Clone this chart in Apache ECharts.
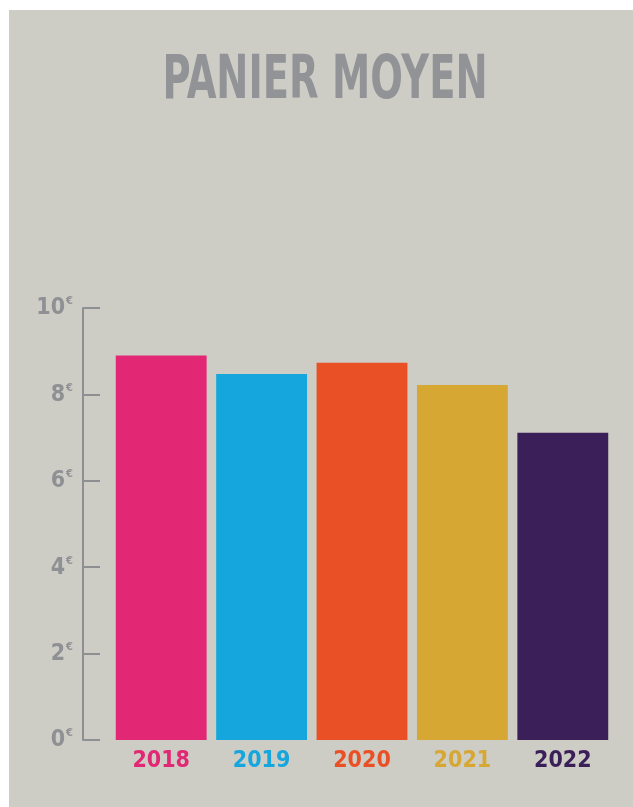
<!DOCTYPE html>
<html>
<head>
<meta charset="utf-8">
<script src="https://cdn.jsdelivr.net/npm/echarts@6/dist/echarts.min.js"></script>
<style>
html,body{margin:0;padding:0;background:#ffffff;}
#chart{width:633px;height:807px;}
</style>
</head>
<body>
<div id="chart"></div>
<script>
var titleText = 'PANIER MOYEN';
var years = ['2018', '2019', '2020', '2021', '2022'];
var values = [8.9, 8.47, 8.73, 8.22, 7.11];
var barColors = ['#e22874', '#15a6de', '#ea5026', '#d7a733', '#3a1f59'];
var yTicks = [0, 2, 4, 6, 8, 10];

var FONT = '"DejaVu Sans Condensed", "Liberation Sans Narrow", sans-serif';
var chart = echarts.init(document.getElementById('chart'), null, {renderer: 'canvas'});

var option = {
  backgroundColor: '#ffffff',
  animation: false,
  graphic: [{
    type: 'rect', z: -10, silent: true,
    shape: {x: 9, y: 10, width: 624, height: 797},
    style: {fill: '#cdcdc5'}
  }, {
    type: 'text', x: 325, y: 52, scaleX: 0.7, silent: true,
    style: {
      text: titleText, fill: '#929397',
      font: 'bold 61px ' + FONT,
      textAlign: 'center', textVerticalAlign: 'top'
    }
  }],
  grid: {left: 111, right: 20, top: 308, bottom: 67, containLabel: false},
  xAxis: {
    type: 'category',
    data: years,
    axisLine: {show: false},
    axisTick: {show: false},
    axisLabel: {
      interval: 0,
      margin: 10,
      fontFamily: FONT, fontWeight: 'bold', fontSize: 23,
      formatter: function (v, i) { return '{c' + i + '|' + v + '}'; },
      rich: (function () {
        var r = {};
        barColors.forEach(function (c, i) {
          r['c' + i] = {color: c, fontFamily: FONT, fontWeight: 'bold', fontSize: 23};
        });
        return r;
      })()
    }
  },
  yAxis: {
    type: 'value',
    min: yTicks[0], max: yTicks[yTicks.length - 1], interval: 2,
    offset: 28,
    axisLine: {show: true, lineStyle: {color: '#8e8f93', width: 2}},
    axisTick: {show: true, inside: true, length: 17, lineStyle: {color: '#8e8f93', width: 2}},
    splitLine: {show: false},
    axisLabel: {
      margin: 10,
      formatter: function (v) { return '{n|' + v + '}{e|€}'; },
      rich: {
        n: {fontFamily: FONT, fontWeight: 'bold', fontSize: 23, color: '#8f9094', lineHeight: 24, verticalAlign: 'bottom'},
        e: {fontFamily: FONT, fontWeight: 'bold', fontSize: 11, color: '#8f9094', lineHeight: 24, verticalAlign: 'top', padding: [0, 0, 11, 1]}
      }
    }
  },
  series: [{
    type: 'bar',
    data: values.map(function (v, i) { return {value: v, itemStyle: {color: barColors[i]}}; }),
    barCategoryGap: '9.5%'
  }]
};
chart.setOption(option);
</script>
</body>
</html>
